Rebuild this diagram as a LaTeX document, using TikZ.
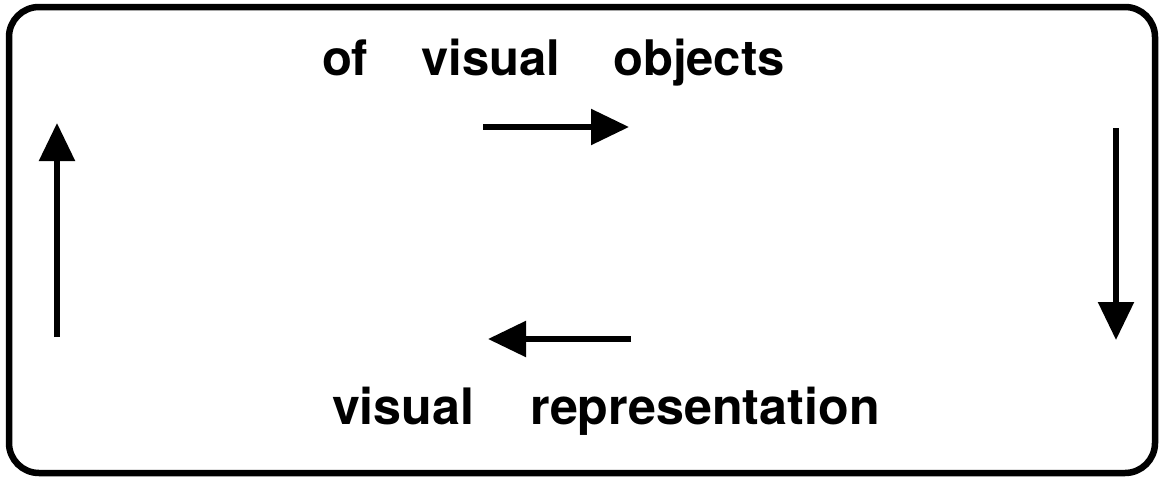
\documentclass[tikz,border=0pt]{standalone}
\usepackage{fontspec}
\setmainfont{TeX Gyre Heros}
\usetikzlibrary{arrows.meta}
\begin{document}
\begin{tikzpicture}[x=1pt,y=-1pt,
  frame/.style={line width=6.5pt,rounded corners=30pt},
  flow/.style={line width=5.5pt,-{Triangle[length=38pt,width=35pt]}},
  caption/.style={inner sep=0pt,outer sep=0pt,anchor=base west,font=\bfseries}]
  \useasboundingbox (0,0) rectangle (1162,479);
  % outer frame
  \draw[frame] (9,7) rectangle (1155,473);
  % labels
  \node[caption,font=\bfseries\fontsize{49}{51}\selectfont] (top) at (322,75)
    {of\hspace{53pt}visual\hspace{53pt}objects};
  \node[caption,font=\bfseries\fontsize{50.2}{52}\selectfont] (bottom) at (332,424)
    {visual\hspace{56pt}representation};
  % arrow end points
  \coordinate (lt) at (57,337);  \coordinate (lh) at (57,123);
  \coordinate (rt) at (1116,128); \coordinate (rh) at (1116,340);
  \coordinate (tt) at (483,127); \coordinate (th) at (629,127);
  \coordinate (bt) at (631,339); \coordinate (bh) at (488,339);
  % cycle of arrows
  \draw[flow] (lt) -- (lh);
  \draw[flow] (tt) -- (th);
  \draw[flow] (rt) -- (rh);
  \draw[flow] (bt) -- (bh);
\end{tikzpicture}
\end{document}
